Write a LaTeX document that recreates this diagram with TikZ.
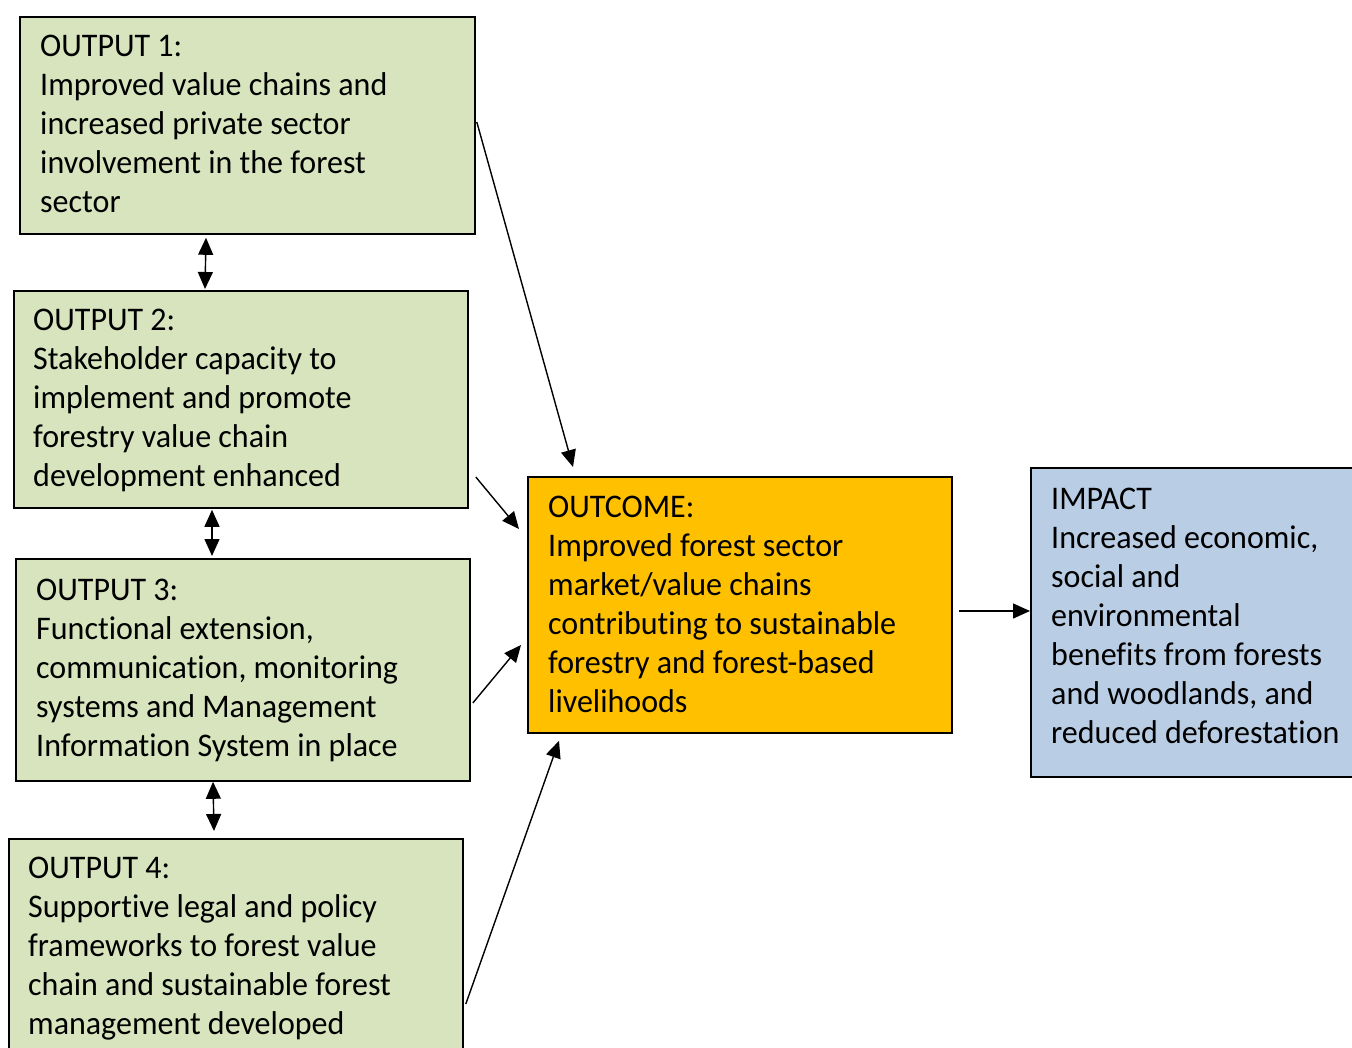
\documentclass[tikz,border=0pt]{standalone}
\usepackage{fontspec}
\setmainfont{Carlito}[FakeStretch=0.97, Ligatures={NoCommon}]
\usetikzlibrary{arrows.meta}
\definecolor{boxgreen}{RGB}{215,228,189}
\definecolor{boxorange}{RGB}{255,192,0}
\definecolor{boxblue}{RGB}{185,205,229}
\newcommand{\btext}[1]{\begin{tabular}[t]{@{}l@{}}#1\end{tabular}}
\tikzset{
  box/.style={draw=black, line width=1.8pt, inner sep=0pt, anchor=north west},
  txt/.style={inner sep=0pt, anchor=base west, font=\fontsize{33}{39}\selectfont},
  arr/.style={line width=1.4pt, -{Triangle[length=17pt,width=15pt]}},
  dbl/.style={line width=1.4pt, {Triangle[length=17pt,width=15pt]}-{Triangle[length=17pt,width=15pt]}}
}
\begin{document}
\begin{tikzpicture}[x=1pt,y={(0,-1pt)}]
\useasboundingbox (0,0) rectangle (1352,1048);
\clip (0,0) rectangle (1352,1048);
\fill[white] (0,0) rectangle (1352,1048);
% boxes
\node[box, fill=boxgreen, minimum width=455pt, minimum height=217pt] (o1) at (19,16) {};
\node[box, fill=boxgreen, minimum width=454pt, minimum height=217pt] (o2) at (13,290) {};
\node[box, fill=boxgreen, minimum width=454pt, minimum height=222pt] (o3) at (15,558) {};
\node[box, fill=boxgreen, minimum width=454pt, minimum height=240pt] (o4) at (8,838) {};
\node[box, fill=boxorange, minimum width=424pt, minimum height=256pt] (outc) at (527,476) {};
\node[box, fill=boxblue, minimum width=340pt, minimum height=309pt] (imp) at (1030,467) {};
% texts
\node[txt] (t1) at (40,57) {\btext{OUTPUT 1:\\Improved value chains and\\increased private sector\\involvement in the forest\\sector}};
\node[txt] (t2) at (33,331) {\btext{OUTPUT 2:\\Stakeholder capacity to\\implement and promote\\forestry value chain\\development enhanced}};
\node[txt] (t3) at (36,600) {\btext{OUTPUT 3:\\Functional extension,\\communication, monitoring\\systems and Management\\Information System in place}};
\node[txt] (t4) at (28,878) {\btext{OUTPUT 4:\\Supportive legal and policy\\frameworks to forest value\\chain and sustainable forest\\management developed}};
\node[txt] (t5) at (548,517) {\btext{OUTCOME:\\Improved forest sector\\market/value chains\\contributing to sustainable\\forestry and forest-based\\livelihoods}};
\node[txt] (t6) at (1051,509) {\btext{IMPACT\\Increased economic,\\social and\\environmental\\benefits from forests\\and woodlands, and\\reduced deforestation}};
% double arrows
\draw[dbl] ([shift={(187,3)}]o1.south west) -- ([shift={(192,-1)}]o2.north west);
\draw[dbl] ([shift={(199,1)}]o2.south west) -- ([shift={(197,-2)}]o3.north west);
\draw[dbl] ([shift={(198,0)}]o3.south west) -- ([shift={(206,-7)}]o4.north west);
% arrows to outcome
\draw[arr] ([shift={(1,106)}]o1.north east) -- ([shift={(46,-9)}]outc.north west);
\draw[arr] ([shift={(7,187)}]o2.north east) -- ([shift={(-8,53)}]outc.north west);
\draw[arr] ([shift={(2,145)}]o3.north east) -- ([shift={(-6,169)}]outc.north west);
\draw[arr] ([shift={(2,166)}]o4.north east) -- ([shift={(32,7)}]outc.south west);
% outcome to impact
\draw[arr] ([shift={(6,135)}]outc.north east) -- ([shift={(0,144)}]imp.north west);
\end{tikzpicture}
\end{document}
